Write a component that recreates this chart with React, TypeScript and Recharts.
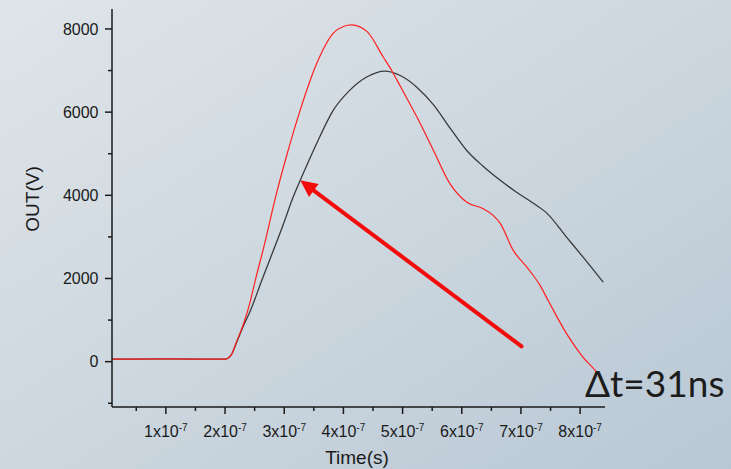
import { LineChart, Line, XAxis, YAxis, ReferenceLine } from 'recharts';

// time in ns, voltage in V
const redTime = [9, 100, 200, 210, 220, 231, 243, 251, 268, 284, 305, 327, 355, 383, 400, 414, 440, 467, 482, 496, 524, 552, 580, 608, 636, 653, 665, 687, 710, 732, 746, 777, 805, 828, 839];
const redVolt = [60, 65, 60, 150, 500, 900, 1470, 1950, 2900, 3880, 5000, 6048, 7173, 7900, 8060, 8096, 7935, 7333, 6990, 6627, 5887, 5084, 4281, 3839, 3679, 3518, 3325, 2675, 2273, 1840, 1470, 675, 104, -258, -499];

const blackTime = [9, 100, 200, 210, 220, 231, 243, 262, 301, 313, 332, 355, 383, 411, 440, 470, 496, 524, 552, 580, 608, 636, 665, 692, 721, 744, 777, 805, 839];
const blackVolt = [60, 65, 60, 150, 480, 860, 1230, 1952, 3400, 3880, 4522, 5253, 6048, 6530, 6851, 6988, 6880, 6600, 6180, 5620, 5084, 4700, 4361, 4080, 3807, 3566, 2995, 2513, 1911];

const xTicks = [50, 100, 150, 200, 250, 300, 350, 400, 450, 500, 550, 600, 650, 700, 750, 800];
const yTicks = [-1000, 0, 1000, 2000, 3000, 4000, 5000, 6000, 7000, 8000];

// arrow: tail -> head, in data units
const arrowFrom = { x: 701, y: 369 };
const arrowTo = { x: 327, y: 4361 };

const redData = redTime.map((t, i) => ({ t, v: redVolt[i] }));
const blackData = blackTime.map((t, i) => ({ t, v: blackVolt[i] }));

const FONT = '"Liberation Sans", Arial, sans-serif';
const INK = '#1a1a1a';

function YTick({ x, y, payload }: any) {
  const major = payload.value % 2000 === 0;
  return (
    <g>
      <line x1={x} x2={x - (major ? 7 : 4)} y1={y} y2={y} stroke={INK} strokeWidth={1.5} />
      {major && (
        <text x={x - 13.5} y={y} dy="0.36em" textAnchor="end" fontSize={16} fontFamily={FONT} fill={INK}>
          {payload.value}
        </text>
      )}
    </g>
  );
}

function XTick({ x, y, payload }: any) {
  const major = payload.value % 100 === 0;
  return (
    <g>
      <line x1={x} x2={x} y1={y} y2={y + (major ? 7 : 4)} stroke={INK} strokeWidth={1.5} />
      {major && (
        <text x={x} y={y + 30} textAnchor="middle" fontSize={16} fontFamily={FONT} fill={INK}>
          <tspan>{payload.value / 100}x10</tspan>
          <tspan dy={-6} fontSize={10}>-7</tspan>
        </text>
      )}
    </g>
  );
}

function Arrow(props: any) {
  const { x1, y1, x2, y2 } = props;
  const dx = x2 - x1;
  const dy = y2 - y1;
  const len = Math.sqrt(dx * dx + dy * dy);
  const ux = dx / len;
  const uy = dy / len;
  const head = 17;
  const half = 8;
  const bx = x2 - ux * head;
  const by = y2 - uy * head;
  return (
    <g>
      <line x1={x1} y1={y1} x2={bx + ux * 2} y2={by + uy * 2} stroke="#f20d0d" strokeWidth={4} strokeLinecap="round" />
      <polygon
        points={`${x2},${y2} ${bx - uy * half},${by + ux * half} ${bx + uy * half},${by - ux * half}`}
        fill="#f20d0d"
      />
    </g>
  );
}

export default function App() {
  return (
    <div
      style={{
        position: 'absolute', left: 0, top: 0, width: 731, height: 469,
        background: 'linear-gradient(to bottom right, #dfe5e9 0%, #cdd7df 50%, #b8c8d5 100%)',
      }}
    >
      <LineChart width={731} height={469} margin={{ top: 9, right: 126, bottom: 0, left: 0 }}>
        <XAxis
          type="number"
          dataKey="t"
          domain={[9, 842]}
          allowDataOverflow
          ticks={xTicks}
          interval={0}
          tickSize={0}
          tickMargin={0}
          tick={<XTick />}
          axisLine={{ stroke: INK, strokeWidth: 1.5 }}
          height={62}
          label={{
            content: () => (
              <text x={357} y={464} textAnchor="middle" fontSize={19} fontFamily={FONT} fill={INK}>Time(s)</text>
            ),
          }}
        />
        <YAxis
          type="number"
          dataKey="v"
          domain={[-1090, 8480]}
          allowDataOverflow
          ticks={yTicks}
          interval={0}
          tickSize={0}
          tickMargin={0}
          tick={<YTick />}
          axisLine={{ stroke: INK, strokeWidth: 1.5 }}
          width={112}
          label={{
            content: () => (
              <text x={39} y={199} transform="rotate(-90 39 199)" textAnchor="middle" fontSize={19} fontFamily={FONT} fill={INK}>OUT(V)</text>
            ),
          }}
        />
        <Line data={blackData} dataKey="v" type="monotone" stroke="#3a3a3a" strokeWidth={1.3} dot={false} isAnimationActive={false} />
        <Line data={redData} dataKey="v" type="monotone" stroke="#ff1f1f" strokeWidth={1.2} dot={false} isAnimationActive={false} />
        <ReferenceLine segment={[arrowFrom, arrowTo]} shape={<Arrow />} ifOverflow="visible" />
      </LineChart>
      <svg width={731} height={469} style={{ position: 'absolute', left: 0, top: 0, pointerEvents: 'none' }}>
        <text x={585} y={397} fontSize={37} fontFamily="Lato, 'Open Sans', sans-serif" fill="#1c1c1c">Δt=31ns</text>
      </svg>
    </div>
  );
}
